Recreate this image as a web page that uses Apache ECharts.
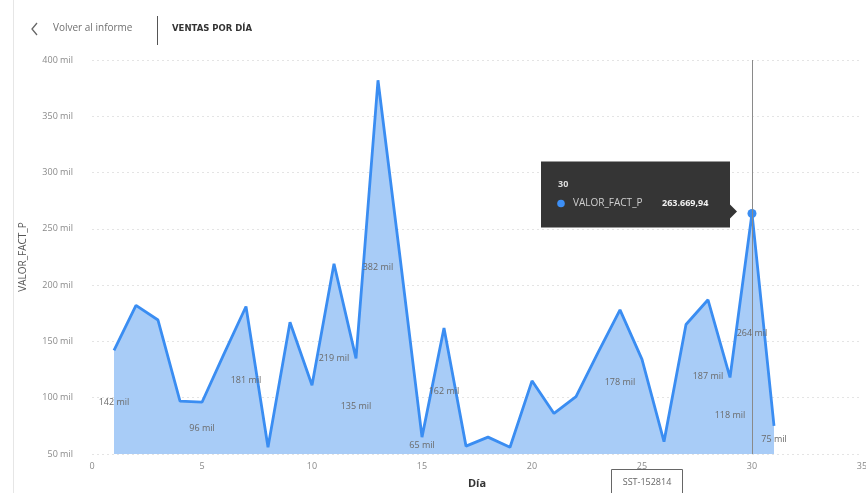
<!DOCTYPE html>
<html>
<head>
<meta charset="utf-8">
<script src="https://cdn.jsdelivr.net/npm/echarts@6/dist/echarts.min.js"></script>
<style>
  html, body { margin: 0; padding: 0; background: #fff; overflow: hidden; }
  #chart { width: 866px; height: 493px; }
</style>
</head>
<body>
<div id="chart"></div>
<script>
// Daily sales (VALOR_FACT_P) for each day of the month
const days = [1, 2, 3, 4, 5, 6, 7, 8, 9, 10, 11, 12, 13, 14, 15, 16,
              17, 18, 19, 20, 21, 22, 23, 24, 25, 26, 27, 28, 29, 30, 31];
const ventas = [142000, 182000, 169000, 97000, 96000, 139000, 181000, 56000,
                167000, 111000, 219000, 135000, 382000, 225000, 65000, 162000,
                57000, 65000, 56000, 115000, 86000, 101000, 140000, 178000,
                134000, 61000, 165000, 187000, 118000, 263669.94, 75000];
// Days that carry a data label
const diasEtiquetados = [1, 5, 7, 11, 12, 13, 15, 16, 24, 28, 29, 30, 31];
// Day currently highlighted with the tooltip
const diaSeleccionado = 30;
// Axis ticks
const yTicks = [50000, 100000, 150000, 200000, 250000, 300000, 350000, 400000];
const xTicks = [0, 5, 10, 15, 20, 25, 30, 35];

const FONT = '"Open Sans", "Noto Sans", sans-serif';
const BLUE = '#3A8DF2';
const FILL = '#A8CCF7';

const chart = echarts.init(document.getElementById('chart'), null, { renderer: 'canvas' });

function mil(v) { return Math.round(v / 1000) + ' mil'; }
function fmtEs(v) {
  const parts = v.toFixed(2).split('.');
  return parts[0].replace(/\B(?=(\d{3})+(?!\d))/g, '.') + ',' + parts[1];
}

function buildData(offsets) {
  return days.map((d, i) => {
    const labeled = diasEtiquetados.indexOf(d) >= 0;
    const sel = d === diaSeleccionado;
    return {
      value: [d, ventas[i]],
      symbolSize: sel ? 9 : 1,
      itemStyle: { color: sel ? BLUE : 'rgba(0,0,0,0)', borderWidth: 0 },
      label: {
        show: labeled,
        position: 'inside',
        offset: [0, offsets ? offsets[i] : 0],
        formatter: () => mil(ventas[i]),
        color: '#6a6a6a',
        fontSize: 9,
        fontFamily: FONT
      }
    };
  });
}

const option = {
  animation: false,
  backgroundColor: '#fff',
  grid: { left: 92, top: 60, width: 770, height: 394, outerBoundsMode: 'none', containLabel: false },
  xAxis: {
    type: 'value',
    min: xTicks[0],
    max: xTicks[xTicks.length - 1],
    interval: 5,
    name: 'Día',
    nameLocation: 'middle',
    nameGap: 24,
    nameTextStyle: { color: '#333', fontSize: 11, fontWeight: 'bold', fontFamily: FONT },
    axisLine: { show: false },
    axisTick: { show: false },
    splitLine: { show: false },
    axisLabel: { color: '#8a8a8a', fontSize: 9, fontFamily: FONT, margin: 8 }
  },
  yAxis: {
    type: 'value',
    min: yTicks[0],
    max: yTicks[yTicks.length - 1],
    interval: 50000,
    name: 'VALOR_FACT_P',
    nameLocation: 'middle',
    nameGap: 64,
    nameRotate: 90,
    nameTextStyle: { color: '#555', fontSize: 10, fontFamily: FONT },
    axisLine: { show: false },
    axisTick: { show: false },
    axisLabel: { color: '#8a8a8a', fontSize: 9, fontFamily: FONT, margin: 19, formatter: v => mil(v) },
    splitLine: { lineStyle: { color: '#e4e4e4', type: [2, 3], width: 1 } }
  },
  series: [{
    type: 'line',
    data: buildData(null),
    showSymbol: true,
    symbol: 'circle',
    lineStyle: { color: BLUE, width: 2.8 },
    areaStyle: { color: FILL, opacity: 1, origin: 'start' },
    emphasis: { disabled: true },
    markLine: {
      silent: true,
      symbol: ['none', 'none'],
      label: { show: false },
      lineStyle: { color: '#8a8a8a', width: 1, type: 'solid' },
      data: [{ xAxis: diaSeleccionado }]
    },
    z: 3
  }]
};

chart.setOption(option);

// Labels sit halfway between each point and the baseline
const baseY = chart.convertToPixel({ gridIndex: 0 }, [0, yTicks[0]])[1];
const offsets = days.map((d, i) => {
  const py = chart.convertToPixel({ gridIndex: 0 }, [d, ventas[i]])[1];
  return (baseY - py) / 2;
});

// Tooltip anchored to the selected point
const selIdx = days.indexOf(diaSeleccionado);
const [px, py] = chart.convertToPixel({ gridIndex: 0 }, [diaSeleccionado, ventas[selIdx]]);
const boxW = 189, boxH = 66;
const boxR = px - 22;
const boxL = boxR - boxW;
const boxT = py - 52;

chart.setOption({
  series: [{ data: buildData(offsets) }],
  graphic: [
    // left frame edge
    { type: 'line', shape: { x1: 13.5, y1: 0, x2: 13.5, y2: 493 },
      style: { stroke: '#e6e6e6', lineWidth: 1 }, silent: true },
    // header: back link, separator and title
    { type: 'polyline', shape: { points: [[37, 23], [32, 29], [37, 35]] },
      style: { stroke: '#666', lineWidth: 1.3, fill: null } },
    { type: 'text', left: 53, top: 23,
      style: { text: 'Volver al informe', fill: '#707070', font: '10px ' + FONT } },
    { type: 'line', shape: { x1: 157.5, y1: 16, x2: 157.5, y2: 45 },
      style: { stroke: '#555', lineWidth: 1 } },
    { type: 'text', left: 172, top: 24,
      style: { text: 'VENTAS POR DÍA', fill: '#333', font: 'bold 8.5px "DejaVu Sans", sans-serif' } },
    // tooltip
    { type: 'rect', shape: { x: boxL, y: boxT, width: boxW, height: boxH },
      style: { fill: '#353535' }, z: 20 },
    { type: 'polygon', shape: { points: [[boxR, py - 9], [boxR + 7, py - 2], [boxR, py + 5]] },
      style: { fill: '#353535' }, z: 20 },
    { type: 'text', x: boxL + 17, y: boxT + 23, z: 21,
      style: { text: String(diaSeleccionado), fill: '#ddd', font: 'bold 9px ' + FONT, verticalAlign: 'middle' } },
    { type: 'circle', shape: { cx: boxL + 20, cy: boxT + 42, r: 3.8 },
      style: { fill: '#3d8ff5' }, z: 21 },
    { type: 'text', x: boxL + 32, y: boxT + 42, z: 21,
      style: { text: 'VALOR_FACT_P', fill: '#cfcfcf', font: '10px ' + FONT, verticalAlign: 'middle' } },
    { type: 'text', x: boxL + 121, y: boxT + 42, z: 21,
      style: { text: fmtEs(ventas[selIdx]), fill: '#f2f2f2', font: 'bold 9px ' + FONT, verticalAlign: 'middle' } },
    // boxed item code at the bottom
    { type: 'rect', shape: { x: 611.5, y: 469.5, width: 71, height: 30 },
      style: { fill: '#fff', stroke: '#666', lineWidth: 1 }, z: 20 },
    { type: 'text', x: 647, y: 482, z: 21,
      style: { text: 'SST-152814', fill: '#666', font: '9px ' + FONT, align: 'center', verticalAlign: 'middle' } }
  ]
});
</script>
</body>
</html>
